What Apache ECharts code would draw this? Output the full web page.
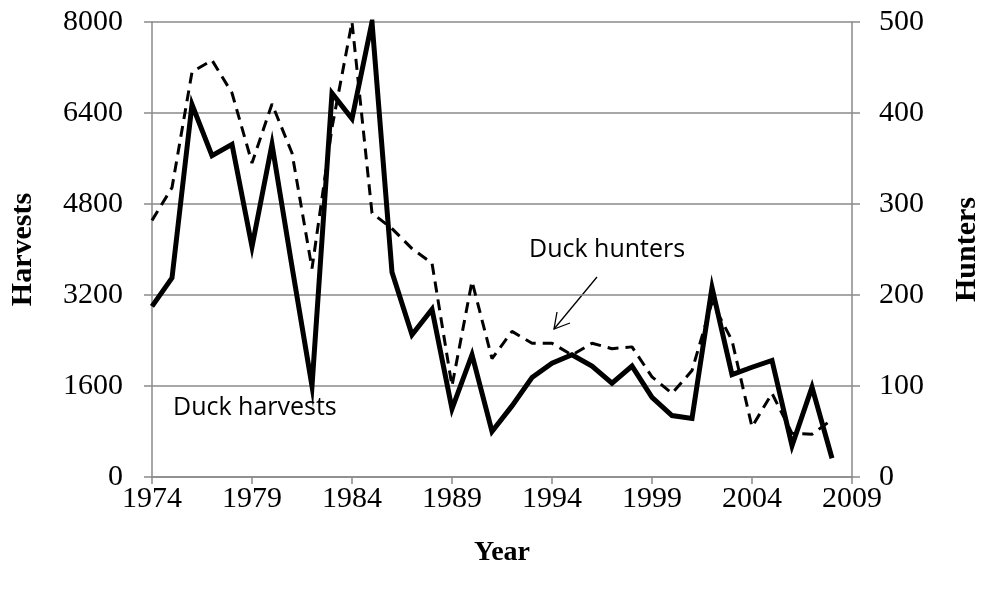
<!DOCTYPE html>
<html>
<head>
<meta charset="utf-8">
<script src="https://cdn.jsdelivr.net/npm/echarts@6/dist/echarts.min.js"></script>
<style>
  html, body { margin: 0; padding: 0; background: #fff; }
  #chart { width: 982px; height: 596px; }
</style>
</head>
<body>
<div id="chart"></div>
<script>
(function () {
    const years = [];
    for (let y = 1974; y <= 2009; y++) years.push(String(y));

    // duck harvests, left axis (1974-2008)
    const harvests = [3000, 3500, 6550, 5650, 5850, 4050, 5850, 3700, 1600, 6750,
        6300, 8000, 3600, 2500, 2950, 1200, 2150, 800, 1250, 1750,
        2000, 2150, 1950, 1650, 1950, 1400, 1080, 1030, 3330, 1800,
        1930, 2050, 550, 1580, 330];

    // duck hunters, right axis (1974-2008)
    const hunters = [282, 318, 445, 458, 422, 345, 410, 356, 229, 384,
        500, 290, 273, 251, 235, 100, 215, 130, 160, 147,
        147, 134, 147, 141, 143, 110, 92, 117, 192, 150,
        55, 92, 48, 47, 63];

    const serif = "'Liberation Serif', 'Times New Roman', serif";
    const grey = "#8a8a8a";
    const titleStyle = { fontFamily: serif, fontSize: 30, fontWeight: "bold", color: "#000" };
    const tickFont = { fontFamily: serif, fontSize: 30, color: "#000" };

    const chart = echarts.init(document.getElementById("chart"));

    chart.setOption({
        animation: false,
        backgroundColor: "#fff",
        grid: { left: 152, right: 130, top: 22, bottom: 119, outerBoundsMode: "none" },
        xAxis: {
            type: "category",
            data: years,
            boundaryGap: false,
            name: "Year",
            nameLocation: "middle",
            nameGap: 62,
            nameTextStyle: Object.assign({}, titleStyle, { fontSize: 28 }),
            axisLine: { lineStyle: { color: grey, width: 1.5 } },
            axisTick: { interval: 4, length: 7, lineStyle: { color: grey, width: 1.5 } },
            axisLabel: Object.assign({ interval: 4, margin: 7 }, tickFont),
            splitLine: { show: false }
        },
        yAxis: [{
            type: "value",
            min: 0,
            max: 8000,
            interval: 1600,
            name: "Harvests",
            nameLocation: "middle",
            nameRotate: 90,
            nameGap: 114,
            nameTextStyle: titleStyle,
            axisLine: { show: true, lineStyle: { color: grey, width: 1.5 } },
            axisTick: { show: true, length: 8, lineStyle: { color: grey, width: 1.5 } },
            axisLabel: Object.assign({ margin: 29, formatter: (v) => String(v) }, tickFont),
            splitLine: { lineStyle: { color: grey, width: 1.5 } }
        }, {
            type: "value",
            min: 0,
            max: 500,
            interval: 100,
            name: "Hunters",
            nameLocation: "middle",
            nameRotate: 90,
            nameGap: 100,
            nameTextStyle: titleStyle,
            axisLine: { show: true, lineStyle: { color: grey, width: 1.5 } },
            axisTick: { show: true, length: 8, lineStyle: { color: grey, width: 1.5 } },
            axisLabel: Object.assign({ margin: 27, formatter: (v) => String(v) }, tickFont),
            splitLine: { show: false }
        }],
        series: [{
            name: "Duck hunters",
            type: "line",
            yAxisIndex: 1,
            data: hunters,
            symbol: "none",
            lineStyle: { color: "#000", width: 3, type: [11, 7] },
            z: 3
        }, {
            name: "Duck harvests",
            type: "line",
            yAxisIndex: 0,
            data: harvests,
            symbol: "none",
            lineStyle: { color: "#000", width: 5, join: "miter" },
            z: 4
        }],
        graphic: [{
            type: "text",
            left: 173,
            top: 395,
            style: { text: "Duck harvests", font: "25px 'Open Sans', 'Liberation Sans', sans-serif", fill: "#000" }
        }, {
            type: "text",
            left: 529,
            top: 237,
            style: { text: "Duck hunters", font: "25px 'Open Sans', 'Liberation Sans', sans-serif", fill: "#000" }
        }, {
            type: "line",
            shape: { x1: 597, y1: 277, x2: 554, y2: 329 },
            style: { stroke: "#000", lineWidth: 1.3 }
        }, {
            type: "polyline",
            shape: { points: [[570, 323], [554, 329], [557, 312]] },
            style: { stroke: "#000", lineWidth: 1.3, fill: null }
        }]
    });

    window.addEventListener("resize", () => chart.resize());
}());
</script>
</body>
</html>
